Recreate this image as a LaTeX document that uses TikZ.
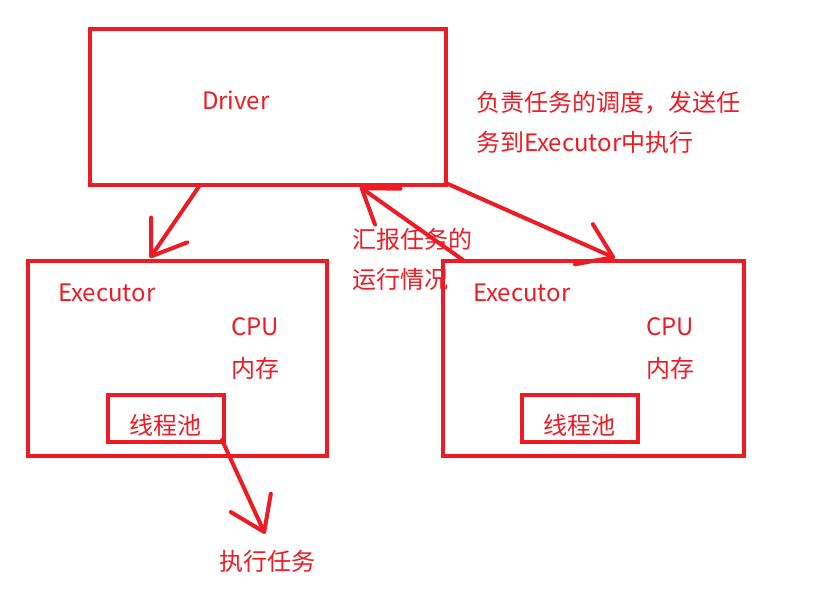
\documentclass[tikz,border=0pt]{standalone}
\usepackage{fontspec}
\newfontfamily\cjk{Noto Sans CJK SC}
\usepackage{tikz}
\usetikzlibrary{arrows.meta, positioning, calc}
\definecolor{paintRed}{RGB}{237,28,36}

\begin{document}
\begin{tikzpicture}[x=1pt,y=-1pt,
  box/.style={draw=paintRed,line width=4pt,inner sep=0pt,outer sep=0pt,
              anchor=north west},
  lbl/.style={text=paintRed,inner sep=0pt,outer sep=0pt,
              font=\cjk\fontsize{24}{40}\selectfont},
  arr/.style={draw=paintRed,line width=4pt,line cap=round,
              -{Straight Barb[length=32pt,width=44pt,round]}}]
\useasboundingbox (0,0) rectangle (831,597);

% ===== DRIVER =====
\node[box,minimum width=356.5pt,minimum height=156pt] (drv) at (89.5,29) {};
\node[lbl,anchor=base west] (drvtxt) at ($(drv.north west)+(112.5,80)$) {Driver};
\node[lbl,align=left,anchor=north west] (duty) at (476,91)
   {负责任务的调度，发送任\\务到Executor中执行};

% ===== LEFT EXECUTOR =====
\node[box,minimum width=299pt,minimum height=195pt] (exl) at (28,261) {};
\node[lbl,anchor=base west] (exltxt) at ($(exl.north west)+(30,40)$) {Executor};
\node[lbl,anchor=base west] (exlcpu) at ($(exl.north west)+(203,74)$) {CPU};
\node[lbl,anchor=base west] (exlmem) at ($(exl.north west)+(203,116)$) {内存};
\node[box,minimum width=116pt,minimum height=47pt] (pooll) at (108,395) {};
\node[lbl,anchor=base west] (poollt) at ($(pooll.north west)+(21,39)$) {线程池};

% ===== RIGHT EXECUTOR =====
\node[box,minimum width=301pt,minimum height=195pt] (exr) at (443,261) {};
\node[lbl,anchor=base west] (exrtxt) at ($(exr.north west)+(30,40)$) {Executor};
\node[lbl,anchor=base west] (exrcpu) at ($(exr.north west)+(203,74)$) {CPU};
\node[lbl,anchor=base west] (exrmem) at ($(exr.north west)+(203,116)$) {内存};
\node[box,minimum width=116pt,minimum height=47pt] (poolr) at (522,395) {};
\node[lbl,anchor=base west] (poolrt) at ($(poolr.north west)+(21,39)$) {线程池};

% ===== notes =====
\node[lbl,align=left,anchor=north west] (report) at (352,228)
   {汇报任务的\\运行情况};
\node[lbl,anchor=base west] (task) at (219,570) {执行任务};

% arrows
\draw[arr] ($(drv.south west)+(110.5,0)$) -- ($(exl.north west)+(122,-3)$);
\draw[arr] ($(exr.north west)+(20,-1)$) -- ($(drv.south west)+(270.5,2)$);
\draw[arr] ($(drv.south east)+(2,-1)$) -- ($(exr.north west)+(172,-3)$);
\draw[arr] ($(pooll.south east)+(-2,-2)$) -- ($(task.north west)+(46,-16)$);
\end{tikzpicture}
\end{document}
